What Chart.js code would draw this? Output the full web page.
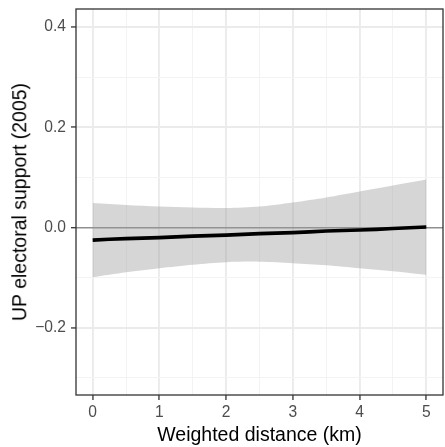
<!DOCTYPE html>
<html>
<head>
<meta charset="utf-8">
<script src="https://cdn.jsdelivr.net/npm/chart.js@4"></script>
<style>
  html, body { margin: 0; padding: 0; background: #fff; }
  #wrap { width: 445px; height: 447px; position: relative; }
  #yTitle {
    position: absolute;
    left: 20px;
    top: 202px;
    transform: translate(-50%, -50%) rotate(-90deg);
    white-space: nowrap;
    font: 19.5px 'Liberation Sans', Arial, sans-serif;
    line-height: 1;
    color: #000;
  }
</style>
</head>
<body>
<div id="wrap">
  <canvas id="smoothChart"></canvas>
  <div id="yTitle">UP electoral support (2005)</div>
</div>
<script>
// weighted distance (km)
const distance = [0, 0.5, 1, 1.5, 2, 2.5, 3, 3.5, 4, 4.5, 5];
// fitted UP support
const fitted = [-0.025, -0.022, -0.020, -0.017, -0.015, -0.012, -0.010, -0.007, -0.005, -0.002, 0.001];
// confidence band
const upperBand = [0.049, 0.045, 0.042, 0.040, 0.039, 0.042, 0.050, 0.060, 0.072, 0.084, 0.096];
const lowerBand = [-0.099, -0.089, -0.081, -0.074, -0.069, -0.068, -0.071, -0.075, -0.081, -0.087, -0.094];
const xTicks = [0, 1, 2, 3, 4, 5];
const yTicks = [-0.2, 0.0, 0.2, 0.4];
const refLine = 0;

const FONT = "'Liberation Sans', Arial, sans-serif";
const X_MIN = -0.25, X_MAX = 5.25;
const Y_MIN = -0.334, Y_MAX = 0.436;

function toPoints(ys) {
  return distance.map((x, i) => ({ x: x, y: ys[i] }));
}

function isMajor(v, list) {
  return list.some((t) => Math.abs(t - v) < 1e-6);
}

// major + minor(중간값) 눈금
function gridValues(major, min, max) {
  const step = major[1] - major[0];
  const out = [];
  for (let i = -1; i < major.length; i++) {
    const base = i < 0 ? major[0] - step : major[i];
    if (i >= 0) out.push(base);
    out.push(base + step / 2);
  }
  return out.filter((v) => v >= min - 1e-9 && v <= max + 1e-9).sort((a, b) => a - b);
}

function yLabel(v) {
  const s = Math.abs(v).toFixed(1);
  return v < -1e-6 ? "\u2212" + s : s;
}

// 패널 테두리
const panelBorder = {
  id: "panelBorder",
  afterDraw(chart) {
    const { ctx, chartArea } = chart;
    ctx.save();
    ctx.strokeStyle = "#333333";
    ctx.lineWidth = 1.3;
    ctx.strokeRect(chartArea.left, chartArea.top, chartArea.right - chartArea.left, chartArea.bottom - chartArea.top);
    ctx.restore();
  },
};

const ctx = document.getElementById("smoothChart").getContext("2d");
new Chart(ctx, {
  type: "line",
  data: {
    datasets: [
      {
        data: toPoints(fitted),
        borderColor: "#000000",
        borderWidth: 3.6,
        pointRadius: 0,
        fill: false,
        tension: 0.3,
      },
      {
        data: toPoints(upperBand),
        borderWidth: 0,
        borderColor: "rgba(0,0,0,0)",
        backgroundColor: "rgba(153,153,153,0.4)",
        pointRadius: 0,
        fill: "+1",
        tension: 0.3,
      },
      {
        data: toPoints(lowerBand),
        borderWidth: 0,
        borderColor: "rgba(0,0,0,0)",
        pointRadius: 0,
        fill: false,
        tension: 0.3,
      },
    ],
  },
  options: {
    responsive: true,
    maintainAspectRatio: false,
    animation: false,
    layout: { padding: { top: 9, right: 2, left: 0, bottom: 0 } },
    plugins: {
      legend: { display: false },
      tooltip: { enabled: false },
    },
    scales: {
      x: {
        type: "linear",
        min: X_MIN,
        max: X_MAX,
        afterBuildTicks(scale) {
          scale.ticks = gridValues(xTicks, X_MIN, X_MAX).map((v) => ({ value: v }));
        },
        afterFit(scale) {
          scale.height = 52;
          scale.paddingLeft = 0;
          scale.paddingRight = 0;
        },
        border: { display: false },
        grid: {
          color: (c) => (isMajor(c.tick.value, xTicks) ? "#EBEBEB" : "#F3F3F3"),
          lineWidth: (c) => (isMajor(c.tick.value, xTicks) ? 1.9 : 1),
          tickColor: (c) => (isMajor(c.tick.value, xTicks) ? "#333333" : "rgba(0,0,0,0)"),
          tickLength: 5,
          tickWidth: 1.3,
        },
        ticks: {
          autoSkip: false,
          maxRotation: 0,
          minRotation: 0,
          padding: 3,
          color: "#4D4D4D",
          font: { family: FONT, size: 15.6 },
          callback: (v) => (isMajor(v, xTicks) ? String(Math.round(v)) : ""),
        },
        title: {
          display: true,
          text: "Weighted distance (km)",
          color: "#000000",
          font: { family: FONT, size: 19.5 },
          padding: { top: 0, bottom: 0 },
        },
      },
      y: {
        type: "linear",
        min: Y_MIN,
        max: Y_MAX,
        afterBuildTicks(scale) {
          scale.ticks = gridValues(yTicks, Y_MIN, Y_MAX).map((v) => ({ value: v }));
        },
        afterFit(scale) {
          scale.width = 76;
          scale.paddingTop = 0;
          scale.paddingBottom = 0;
        },
        border: { display: false },
        grid: {
          color: (c) => {
            if (Math.abs(c.tick.value - refLine) < 1e-6) return "#8F8F8F";
            return isMajor(c.tick.value, yTicks) ? "#EBEBEB" : "#F3F3F3";
          },
          lineWidth: (c) => {
            if (Math.abs(c.tick.value - refLine) < 1e-6) return 1.4;
            return isMajor(c.tick.value, yTicks) ? 1.9 : 1;
          },
          tickColor: (c) => (isMajor(c.tick.value, yTicks) ? "#333333" : "rgba(0,0,0,0)"),
          tickLength: 5,
          tickWidth: 1.3,
        },
        ticks: {
          autoSkip: false,
          padding: 5,
          color: "#4D4D4D",
          font: { family: FONT, size: 15.6 },
          callback: (v) => (isMajor(v, yTicks) ? yLabel(v) : ""),
        },
        // 세로 제목은 HTML(#yTitle)로 표시
        title: { display: false },
      },
    },
  },
  plugins: [panelBorder],
});
</script>
</body>
</html>
